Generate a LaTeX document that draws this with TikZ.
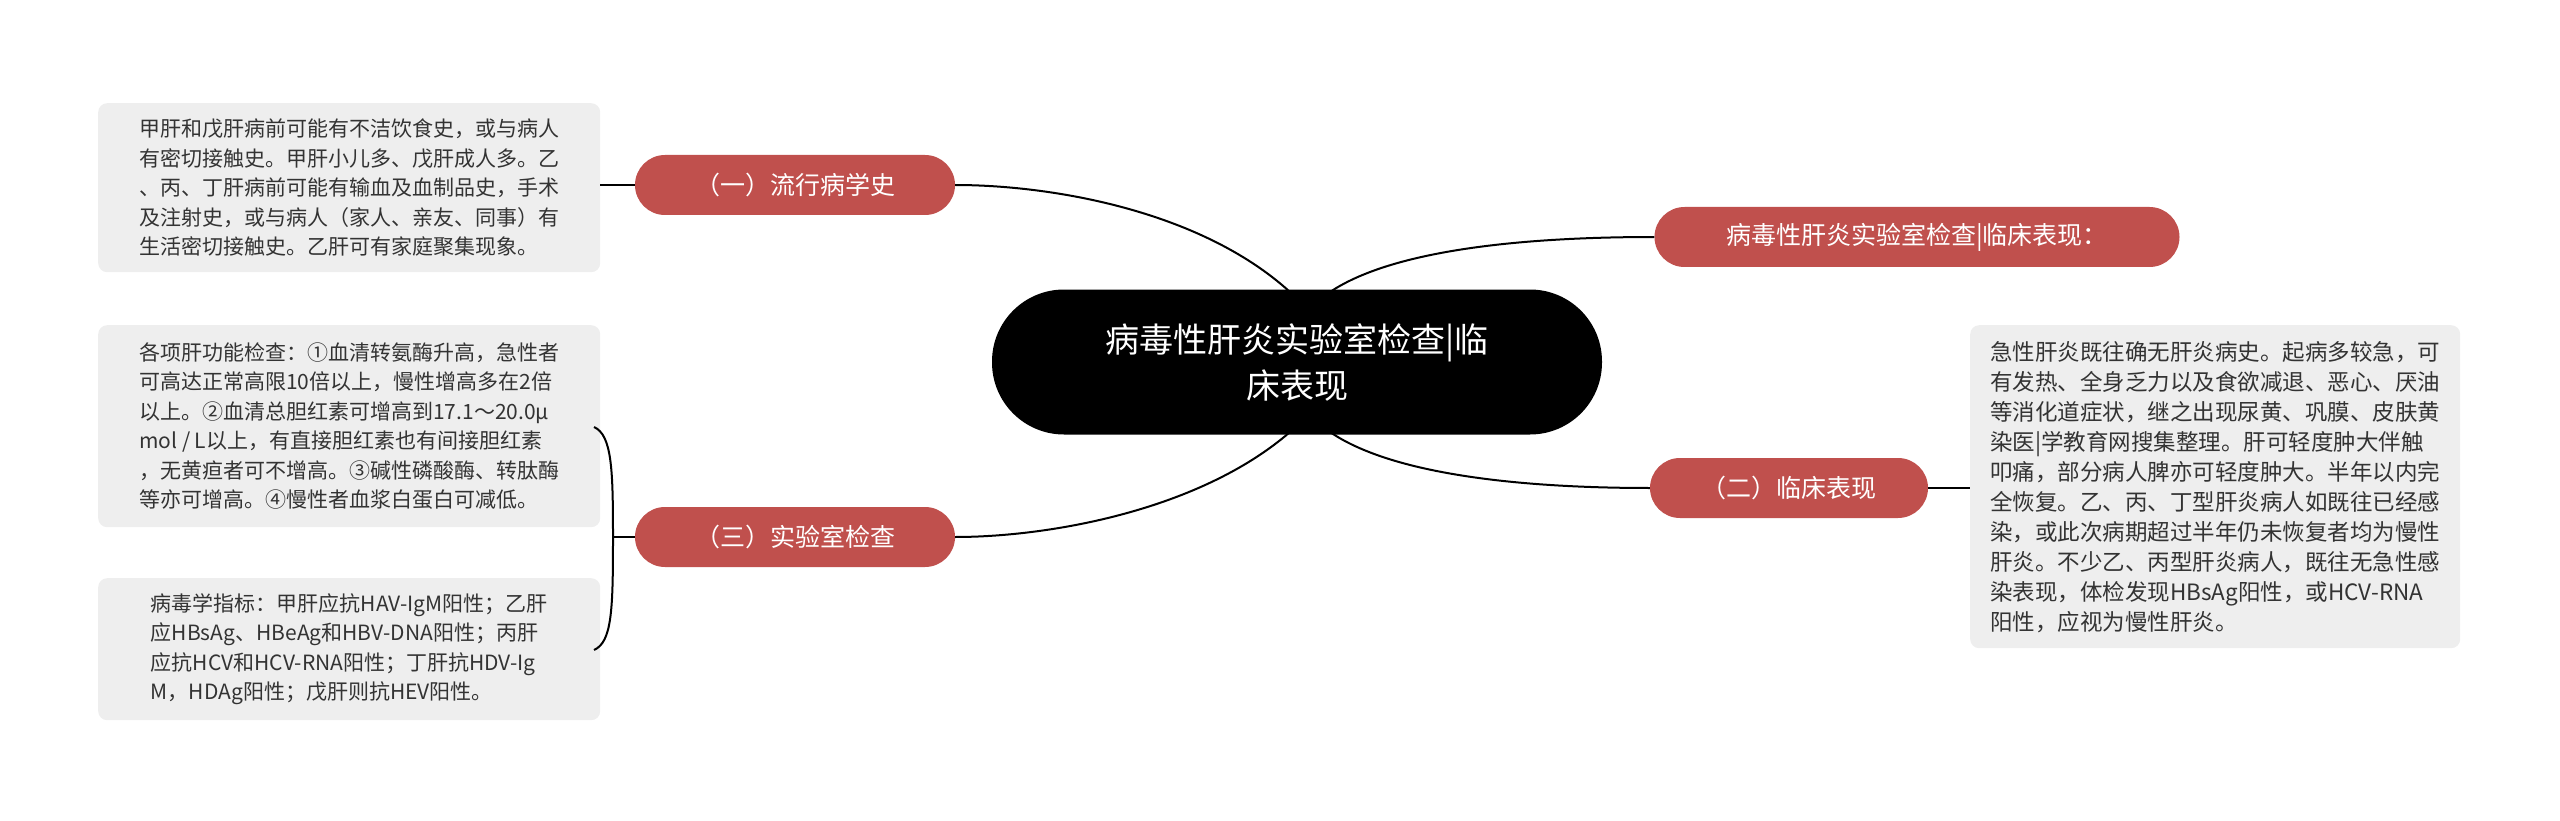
\documentclass[tikz,border=0pt]{standalone}
\usepackage{fontspec}
\setmainfont{Noto Sans CJK SC}
\begin{document}
\begin{tikzpicture}[x=1pt,y=-1pt,
  pill/.style={fill=red!55!black!70!white, fill=pillred, rounded corners=30pt, text=white, minimum height=60pt, inner xsep=18pt, font=\fontsize{25}{30}\selectfont},
  tbox/.style={fill=boxgray, rounded corners=9pt, text=textgray, align=left, anchor=north west, inner xsep=12pt, inner ysep=11pt},
  link/.style={line width=2pt, draw=black}]
\definecolor{pillred}{HTML}{C0504D}
\definecolor{boxgray}{HTML}{EEEEEE}
\definecolor{textgray}{HTML}{333333}
\useasboundingbox (0,0) rectangle (2560,821);

\node[fill=black, rounded corners=72pt, minimum width=610pt, minimum height=145pt, text=white, align=center, font=\fontsize{34}{46}\selectfont] (c) at (1297,362) {病毒性肝炎实验室检查|临\\床表现};

\node[pill, minimum width=320pt] (p1) at (795,185) {（一）流行病学史};
\node[pill, minimum width=320pt] (p3) at (795,537) {（三）实验室检查};
\node[pill, minimum width=525pt] (pr) at (1917,237) {病毒性肝炎实验室检查|临床表现：};
\node[pill, minimum width=278pt] (p2) at (1789,488) {（二）临床表现};

\node[tbox, minimum width=502pt, minimum height=169pt, font=\fontsize{21}{29.5}\selectfont] (b1) at (98,103) {甲肝和戊肝病前可能有不洁饮食史，或与病人\\有密切接触史。甲肝小儿多、戊肝成人多。乙\\、丙、丁肝病前可能有输血及血制品史，手术\\及注射史，或与病人（家人、亲友、同事）有\\生活密切接触史。乙肝可有家庭聚集现象。};

\node[tbox, minimum width=502pt, minimum height=202pt, font=\fontsize{21}{29.5}\selectfont] (b2) at (98,325) {各项肝功能检查：①血清转氨酶升高，急性者\\可高达正常高限10倍以上，慢性增高多在2倍\\以上。②血清总胆红素可增高到17.1～20.0μ\\mol / L以上，有直接胆红素也有间接胆红素\\，无黄疸者可不增高。③碱性磷酸酶、转肽酶\\等亦可增高。④慢性者血浆白蛋白可减低。};

\node[tbox, minimum width=502pt, minimum height=142pt, font=\fontsize{21}{29.5}\selectfont] (b3) at (98,578) {病毒学指标：甲肝应抗HAV-IgM阳性；乙肝\\应HBsAg、HBeAg和HBV-DNA阳性；丙肝\\应抗HCV和HCV-RNA阳性；丁肝抗HDV-Ig\\M，HDAg阳性；戊肝则抗HEV阳性。};

\node[tbox, minimum width=490pt, minimum height=323pt, font=\fontsize{22.5}{30}\selectfont] (b4) at (1970,325) {急性肝炎既往确无肝炎病史。起病多较急，可\\有发热、全身乏力以及食欲减退、恶心、厌油\\等消化道症状，继之出现尿黄、巩膜、皮肤黄\\染医|学教育网搜集整理。肝可轻度肿大伴触\\叩痛，部分病人脾亦可轻度肿大。半年以内完\\全恢复。乙、丙、丁型肝炎病人如既往已经感\\染，或此次病期超过半年仍未恢复者均为慢性\\肝炎。不少乙、丙型肝炎病人，既往无急性感\\染表现，体检发现HBsAg阳性，或HCV-RNA\\阳性，应视为慢性肝炎。};

\coordinate (ct1) at (1290,292);
\coordinate (cb1) at (1290,432);
\coordinate (ct2) at (1330,292);
\coordinate (cb2) at (1330,432);
\draw[link] (ct1) .. controls (1200,210) and (1050,185) .. (p1.east);
\draw[link] (cb1) .. controls (1200,510) and (1050,537) .. (p3.east);
\draw[link] (ct2) .. controls (1400,245) and (1550,237) .. (pr.west);
\draw[link] (cb2) .. controls (1400,480) and (1550,488) .. (p2.west);
\draw[link] (b1.east |- p1.west) -- (p1.west);
\draw[link] (p2.east) -- (p2.east -| b4.west);
\coordinate (bt) at (594,427);
\coordinate (bb) at (594,650);
\coordinate (bm) at (613,537);
\draw[link] (bt) .. controls (612,435) and (613,470) .. (bm) .. controls (613,610) and (612,642) .. (bb);
\draw[link] (bm) -- (p3.west);
\end{tikzpicture}
\end{document}
